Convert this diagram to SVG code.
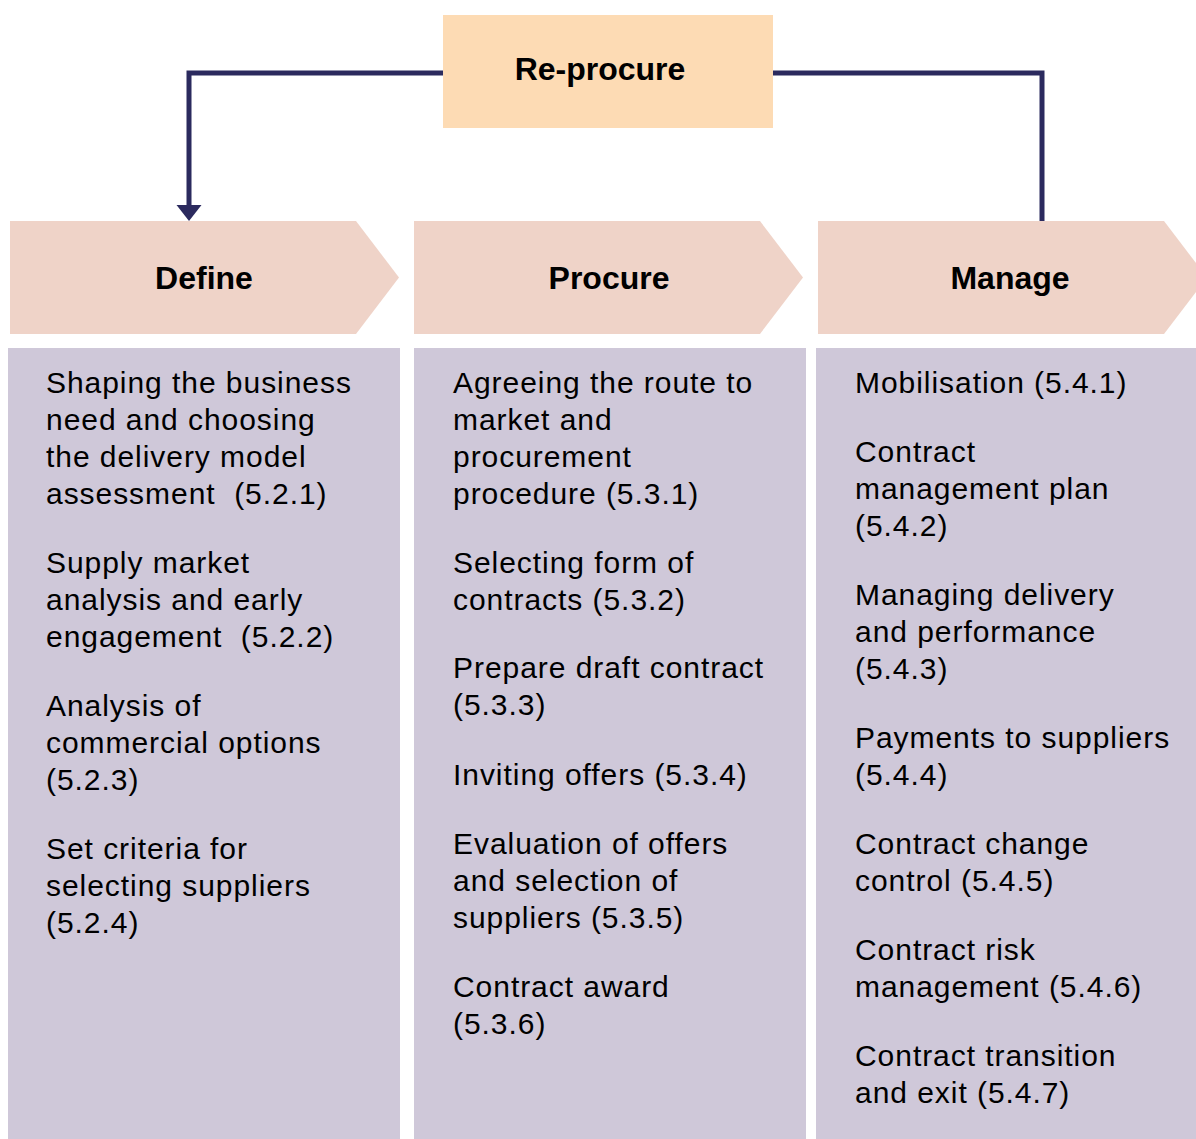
<svg xmlns="http://www.w3.org/2000/svg" width="1196" height="1139" viewBox="0 0 1196 1139">
  <style>
    .head { font-family: "Liberation Sans", Arial, sans-serif; font-weight: bold; font-size: 32px; fill: #000; text-anchor: middle; }
    .body { font-family: "Liberation Sans", Arial, sans-serif; font-size: 30px; letter-spacing: 0.95px; fill: #000; }
    .chev { fill: #EFD3C8; }
    .panel { fill: #CFC8D9; }
    .conn { fill: none; stroke: #2B2A5E; stroke-width: 5; stroke-linejoin: miter; }
    .arrowhead { fill: #2B2A5E; }
  </style>
  <rect width="1196" height="1139" fill="#FFFFFF"/>

  <g id="connectors">
    <path class="conn" d="M443,73 H189 V206"/>
    <path class="arrowhead" d="M176.5,205 L201.5,205 L189,221 Z"/>
    <path class="conn" d="M773,73 H1042 V221"/>
  </g>

  <g id="reprocure">
    <rect x="443" y="15" width="330" height="113" fill="#FDDBB4"/>
    <text class="head" x="600" y="80">Re-procure</text>
  </g>

  <g id="define">
    <path class="chev" d="M10,221 H356 L399,277.5 L356,334 H10 Z"/>
    <text class="head" x="204" y="289">Define</text>
  </g>
  <g id="procure">
    <path class="chev" d="M414,221 H760 L803,277.5 L760,334 H414 Z"/>
    <text class="head" x="609" y="289">Procure</text>
  </g>
  <g id="manage">
    <path class="chev" d="M818,221 H1164 L1207,277.5 L1164,334 H818 Z"/>
    <text class="head" x="1010" y="289">Manage</text>
  </g>

  <g id="define-tasks">
    <rect class="panel" x="8" y="348" width="392" height="791"/>
    <text class="body" x="46" y="393">Shaping the business</text>
    <text class="body" x="46" y="430">need and choosing</text>
    <text class="body" x="46" y="467">the delivery model</text>
    <text class="body" x="46" y="503.5" xml:space="preserve">assessment  (5.2.1)</text>
    <text class="body" x="46" y="573">Supply market</text>
    <text class="body" x="46" y="610">analysis and early</text>
    <text class="body" x="46" y="646.5" xml:space="preserve">engagement  (5.2.2)</text>
    <text class="body" x="46" y="716">Analysis of</text>
    <text class="body" x="46" y="753">commercial options</text>
    <text class="body" x="46" y="789.5">(5.2.3)</text>
    <text class="body" x="46" y="859">Set criteria for</text>
    <text class="body" x="46" y="896">selecting suppliers</text>
    <text class="body" x="46" y="932.5">(5.2.4)</text>
  </g>

  <g id="procure-tasks">
    <rect class="panel" x="414" y="348" width="392" height="791"/>
    <text class="body" x="453" y="393">Agreeing the route to</text>
    <text class="body" x="453" y="430">market and</text>
    <text class="body" x="453" y="467">procurement</text>
    <text class="body" x="453" y="503.5">procedure (5.3.1)</text>
    <text class="body" x="453" y="573">Selecting form of</text>
    <text class="body" x="453" y="610">contracts (5.3.2)</text>
    <text class="body" x="453" y="678">Prepare draft contract</text>
    <text class="body" x="453" y="715">(5.3.3)</text>
    <text class="body" x="453" y="784.5">Inviting offers (5.3.4)</text>
    <text class="body" x="453" y="854">Evaluation of offers</text>
    <text class="body" x="453" y="891">and selection of</text>
    <text class="body" x="453" y="927.5">suppliers (5.3.5)</text>
    <text class="body" x="453" y="997">Contract award</text>
    <text class="body" x="453" y="1033.5">(5.3.6)</text>
  </g>

  <g id="manage-tasks">
    <rect class="panel" x="816" y="348" width="380" height="791"/>
    <text class="body" x="855" y="393">Mobilisation (5.4.1)</text>
    <text class="body" x="855" y="462">Contract</text>
    <text class="body" x="855" y="499">management plan</text>
    <text class="body" x="855" y="535.5">(5.4.2)</text>
    <text class="body" x="855" y="605">Managing delivery</text>
    <text class="body" x="855" y="642">and performance</text>
    <text class="body" x="855" y="678.5">(5.4.3)</text>
    <text class="body" x="855" y="748">Payments to suppliers</text>
    <text class="body" x="855" y="784.5">(5.4.4)</text>
    <text class="body" x="855" y="854">Contract change</text>
    <text class="body" x="855" y="891">control (5.4.5)</text>
    <text class="body" x="855" y="960">Contract risk</text>
    <text class="body" x="855" y="997">management (5.4.6)</text>
    <text class="body" x="855" y="1066">Contract transition</text>
    <text class="body" x="855" y="1103">and exit (5.4.7)</text>
  </g>
</svg>
